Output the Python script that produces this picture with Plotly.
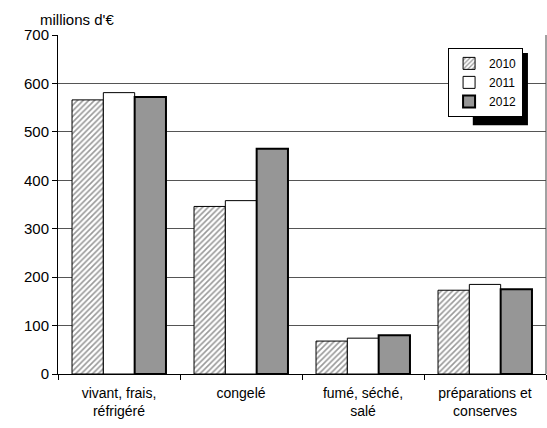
import plotly.graph_objects as go

categories = ["vivant, frais,<br>réfrigéré", "congelé", "fumé, séché,<br>salé", "préparations et<br>conserves"]
years = ["2010", "2011", "2012"]
v2010 = [566, 346, 68, 173]
v2011 = [581, 358, 74, 185]
v2012 = [572, 465, 80, 175]

FONT = "Liberation Sans, Arial, sans-serif"

fig = go.Figure()
fig.add_trace(go.Bar(name=years[0], x=categories, y=v2010,
                     marker=dict(color="white", line=dict(color="black", width=1),
                                 pattern=dict(shape="/", fgcolor="#333333", bgcolor="white",
                                              size=4, solidity=0.4))))
fig.add_trace(go.Bar(name=years[1], x=categories, y=v2011,
                     marker=dict(color="white", line=dict(color="black", width=1))))
fig.add_trace(go.Bar(name=years[2], x=categories, y=v2012,
                     marker=dict(color="#969696", line=dict(color="black", width=2))))

fig.update_layout(
    width=547, height=428,
    margin=dict(l=58, r=1, t=35, b=54, autoexpand=False),
    paper_bgcolor="white", plot_bgcolor="white",
    barmode="group", bargap=0.23, bargroupgap=0,
    font=dict(family=FONT, size=14, color="black"),
    showlegend=True,
    legend=dict(x=0.953, y=0.962, xanchor="right", yanchor="top",
                bgcolor="white", bordercolor="black", borderwidth=1,
                font=dict(size=12), itemwidth=30, tracegroupgap=0),
    annotations=[dict(text="millions d'€", xref="paper", yref="paper",
                      x=-0.04, y=1.0, xanchor="left", yanchor="bottom",
                      yshift=5, showarrow=False, font=dict(size=15))],
    shapes=[
        dict(type="line", xref="paper", yref="paper", x0=1, x1=1, y0=0, y1=1,
             line=dict(color="#444444", width=1)),
        dict(type="rect", xref="paper", yref="paper",
             x0=0.85, x1=0.963, y0=0.734, y1=0.947,
             fillcolor="black", line=dict(width=0), layer="above"),
    ],
)
fig.update_yaxes(range=[0, 700], dtick=100, showgrid=True, gridcolor="#555555",
                 gridwidth=1, showline=True, linecolor="black", linewidth=1,
                 ticks="outside", ticklen=5, tickcolor="black",
                 tickfont=dict(size=15), zeroline=False)
fig.update_xaxes(showline=True, linecolor="black", linewidth=1,
                 ticks="outside", tickson="boundaries", ticklen=5, tickcolor="black",
                 tickfont=dict(size=14), ticklabelstandoff=6)

fig.write_html("out.html", config={"displayModeBar": False},
               post_script="document.body.style.margin='0';")
